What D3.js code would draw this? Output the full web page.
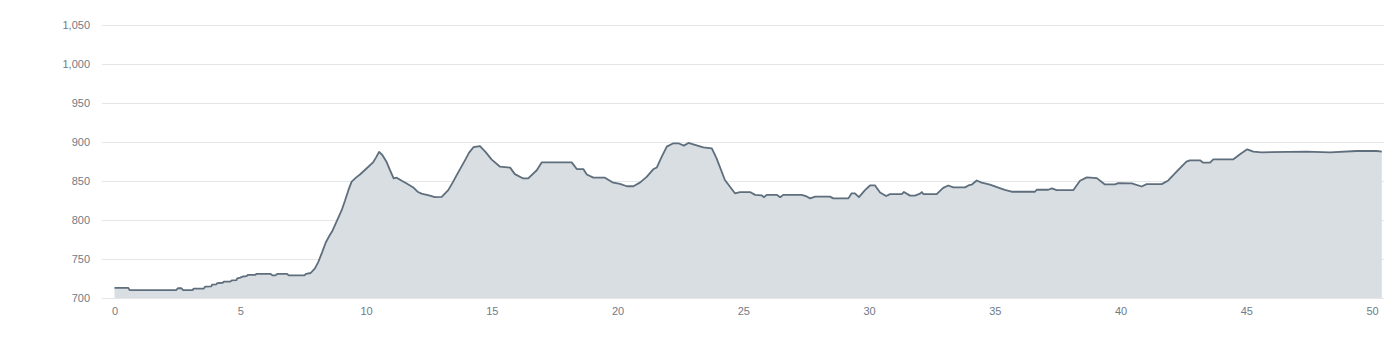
<!DOCTYPE html>
<html>
<head>
<meta charset="utf-8">
<script src="https://cdn.jsdelivr.net/npm/d3@7"></script>
<style>
  html, body { margin: 0; padding: 0; background: #fff; }
  svg text { font-family: "Liberation Sans", Arial, sans-serif; font-size: 11px; fill: #6f7b87; }
  .labels { opacity: 0.999; }
</style>
</head>
<body>
<div id="chart"></div>
<script>
// distance along the route (km) and elevation (m)
const distances = [
  0, 0.55, 0.6, 2.45, 2.52, 2.66, 2.73, 3.1, 3.15, 3.55, 3.6, 3.85, 3.88, 4.05, 4.08, 4.3, 4.35, 4.6, 4.66, 4.85,
  4.88, 5.0, 5.1, 5.25, 5.3, 5.6, 5.65, 6.2, 6.28, 6.4, 6.48, 6.85, 6.93, 7.55, 7.62, 7.8, 7.97, 8.1, 8.25, 8.4,
  8.55, 8.65, 8.9, 9.03, 9.17, 9.3, 9.43, 9.6, 9.76, 10.03, 10.29, 10.4, 10.52, 10.65, 10.82, 10.95, 11.1, 11.22, 11.42, 11.62,
  11.88, 12.05, 12.21, 12.54, 12.74, 13.01, 13.27, 13.45, 13.6, 13.94, 14.1, 14.27, 14.53, 14.75, 15.0, 15.33, 15.73, 15.92, 16.25, 16.45,
  16.79, 16.99, 18.18, 18.38, 18.64, 18.78, 19.04, 19.5, 19.83, 20.1, 20.37, 20.63, 20.89, 21.16, 21.42, 21.56, 21.76, 21.96, 22.22, 22.42,
  22.64, 22.82, 23.08, 23.41, 23.75, 23.94, 24.27, 24.67, 24.87, 25.27, 25.47, 25.73, 25.83, 25.93, 26.33, 26.47, 26.59, 27.32, 27.52, 27.66,
  27.86, 28.45, 28.58, 29.18, 29.31, 29.44, 29.6, 29.84, 30.04, 30.24, 30.44, 30.68, 30.84, 31.3, 31.39, 31.63, 31.83, 32.03, 32.1, 32.16,
  32.69, 32.95, 33.15, 33.35, 33.82, 33.95, 34.08, 34.28, 34.48, 34.81, 35.2, 35.4, 35.67, 36.6, 36.67, 37.13, 37.27, 37.46, 38.12, 38.39,
  38.66, 39.06, 39.38, 39.78, 39.91, 40.45, 40.84, 41.04, 41.64, 41.9, 42.24, 42.62, 42.76, 43.16, 43.29, 43.56, 43.69, 44.49, 44.75, 45.04,
  45.28, 45.61, 47.4, 48.33, 49.39, 50.19, 50.39
];
const elevations = [
  713, 713, 710, 710, 712.5, 712.5, 710, 710, 712, 712, 714.5, 715, 717, 717.5, 719, 719.5, 721, 721, 722.5, 723,
  725, 726, 727.5, 728, 729.5, 729.5, 731, 731, 729, 729, 731, 731, 729, 729, 731, 732, 738, 746, 758, 771,
  780, 785, 803, 812, 825, 838, 849, 854, 858, 866, 874, 880, 887, 883, 874, 864, 853, 854, 850, 846.5,
  841.5, 836, 833.5, 831, 829, 829.5, 838, 848, 857, 876.5, 886, 893, 894.5, 887, 877, 868, 866.8, 858.5, 853, 853,
  863.5, 873.6, 873.6, 865, 865, 858, 854, 854, 847.6, 846, 843, 843, 847.6, 855, 864.7, 867, 881, 893.7, 898, 898,
  895, 898.4, 896, 892.8, 891.5, 878.7, 851, 834, 835.6, 835.6, 832, 831.4, 829, 832, 832, 829, 832, 832, 830, 827.5,
  829.7, 829.7, 827.5, 827.5, 834, 834, 829, 838, 844, 844, 835, 830.5, 833, 833, 835.6, 831, 831, 833.5, 835.6, 833,
  833, 841, 844, 841.6, 841.6, 844, 845, 850.4, 847.6, 845, 840.6, 838.5, 836, 836, 838.5, 838.5, 840.2, 838, 838, 850,
  854.3, 853.4, 845.3, 845.3, 847, 846.6, 842.7, 845.7, 845.7, 850.4, 862, 874.5, 876.2, 876.2, 873.2, 873.2, 877.5, 877.5, 883.9, 890.3,
  887.3, 886.4, 887.3, 886.4, 888.1, 888.1, 887.3
];
const yTicks = [700, 750, 800, 850, 900, 950, 1000, 1050];
const xTicks = [0, 5, 10, 15, 20, 25, 30, 35, 40, 45, 50];

const width = 1390, height = 350;
const gridLeft = 102, gridRight = 1384;

const svg = d3.select("#chart").append("svg")
  .attr("width", width)
  .attr("height", height);

const x = d3.scaleLinear()
  .domain([0, 50])
  .range([114.5, 1372]);

const y = d3.scaleLinear()
  .domain([700, 1050])
  .range([298, 24.5]);

const points = distances.map((d, i) => [d, elevations[i]]);

// horizontal grid lines
svg.append("g")
  .selectAll("line")
  .data(yTicks)
  .enter().append("line")
    .attr("x1", gridLeft)
    .attr("x2", gridRight)
    .attr("y1", d => Math.round(y(d)) + 0.5)
    .attr("y2", d => Math.round(y(d)) + 0.5)
    .attr("stroke", "#e4e6e8")
    .attr("stroke-width", 1);

// y axis labels
const yAxis = svg.append("g")
  .attr("class", "labels")
  .attr("transform", "translate(90,0)")
  .call(d3.axisLeft(y).tickValues(yTicks).tickSize(0).tickPadding(0).tickFormat(d3.format(",")));
yAxis.select(".domain").remove();

// x axis labels
const xAxis = svg.append("g")
  .attr("class", "labels")
  .attr("transform", "translate(0,303)")
  .call(d3.axisBottom(x).tickValues(xTicks).tickSize(0).tickPadding(4));
xAxis.select(".domain").remove();

svg.selectAll(".tick text")
  .style("font-family", "'Liberation Sans', Arial, sans-serif")
  .style("font-size", "11px")
  .attr("fill", "#6f7b87");

// elevation area
const area = d3.area()
  .x(d => x(d[0]))
  .y0(y(700))
  .y1(d => y(d[1]));

svg.append("path")
  .datum(points)
  .attr("fill", "#d9dee3")
  .attr("d", area);

const line = d3.line()
  .x(d => x(d[0]))
  .y(d => y(d[1]));

svg.append("path")
  .datum(points)
  .attr("fill", "none")
  .attr("stroke", "#5e6e7c")
  .attr("stroke-width", 1.8)
  .attr("stroke-linejoin", "round")
  .attr("d", line);
</script>
</body>
</html>
